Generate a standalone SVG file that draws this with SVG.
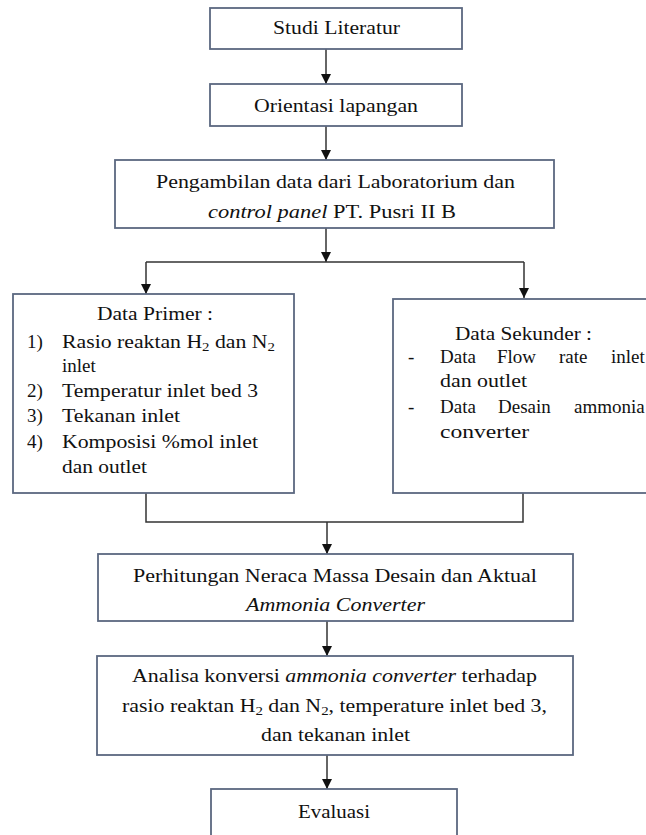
<svg xmlns="http://www.w3.org/2000/svg" width="646" height="835" viewBox="0 0 646 835">
<style>
.box{fill:#fff;stroke:#5b6880;stroke-width:1.8}
.con{fill:none;stroke:#333;stroke-width:1.5}
text{font-family:"Liberation Serif","Times New Roman",serif;font-size:19px;fill:#111}
.it{font-style:italic}
.sub{font-size:13px}
</style>
<defs>
<marker id="arr" markerUnits="userSpaceOnUse" markerWidth="12" markerHeight="12" viewBox="0 0 12 12" refX="11" refY="6" orient="auto">
<path d="M1,1 L11,6 L1,11 Z" fill="#111"/>
</marker>
</defs>
<rect width="646" height="835" fill="#fff"/>
<g id="connectors">
<path class="con" d="M326,49 V84" marker-end="url(#arr)"/>
<path class="con" d="M326,126 V160" marker-end="url(#arr)"/>
<path class="con" d="M326,228 V262" marker-end="url(#arr)"/>
<path class="con" d="M146,262 H524"/>
<path class="con" d="M146,262 V294" marker-end="url(#arr)"/>
<path class="con" d="M524,262 V298" marker-end="url(#arr)"/>
<path class="con" d="M146,493 V522 H523 V493"/>
<path class="con" d="M327,522 V554" marker-end="url(#arr)"/>
<path class="con" d="M327,621 V656" marker-end="url(#arr)"/>
<path class="con" d="M327,755 V789" marker-end="url(#arr)"/>
</g>
<g id="studi">
<rect class="box" x="210" y="8" width="252" height="41"/>
<text x="273" y="34" textLength="127" lengthAdjust="spacingAndGlyphs">Studi Literatur</text>
</g>
<g id="orientasi">
<rect class="box" x="210" y="84" width="252" height="42"/>
<text x="254" y="112" textLength="164" lengthAdjust="spacingAndGlyphs">Orientasi lapangan</text>
</g>
<g id="pengambilan">
<rect class="box" x="115" y="160" width="439" height="68"/>
<text x="156" y="188" textLength="359" lengthAdjust="spacingAndGlyphs">Pengambilan data dari Laboratorium dan</text>
<text x="208" y="218" textLength="248" lengthAdjust="spacingAndGlyphs"><tspan class="it">control panel</tspan> PT. Pusri II B</text>
</g>
<g id="primer">
<rect class="box" x="13" y="294" width="281" height="199"/>
<text x="97" y="320" textLength="116" lengthAdjust="spacingAndGlyphs">Data Primer :</text>
<text x="27" y="348">1)</text>
<text x="62" y="348" textLength="213" lengthAdjust="spacingAndGlyphs">Rasio reaktan H<tspan class="sub" dy="3">2</tspan><tspan dy="-3"> dan N</tspan><tspan class="sub" dy="3">2</tspan></text>
<text x="62" y="372">inlet</text>
<text x="27" y="397">2)</text>
<text x="62" y="397" textLength="196" lengthAdjust="spacingAndGlyphs">Temperatur inlet bed 3</text>
<text x="27" y="422">3)</text>
<text x="62" y="422" textLength="118" lengthAdjust="spacingAndGlyphs">Tekanan inlet</text>
<text x="27" y="448">4)</text>
<text x="62" y="448" textLength="196" lengthAdjust="spacingAndGlyphs">Komposisi %mol inlet</text>
<text x="62" y="473" textLength="85" lengthAdjust="spacingAndGlyphs">dan outlet</text>
</g>
<g id="sekunder">
<rect class="box" x="393" y="299" width="270" height="194"/>
<text x="455" y="340" textLength="137" lengthAdjust="spacingAndGlyphs">Data Sekunder :</text>
<text x="408" y="363">-</text>
<text x="440" y="363">Data</text>
<text x="497" y="363">Flow</text>
<text x="559" y="363">rate</text>
<text x="611" y="363">inlet</text>
<text x="440" y="387" textLength="87" lengthAdjust="spacingAndGlyphs">dan outlet</text>
<text x="408" y="413">-</text>
<text x="440" y="413">Data</text>
<text x="498" y="413">Desain</text>
<text x="574" y="413">ammonia</text>
<text x="440" y="438" textLength="89" lengthAdjust="spacingAndGlyphs">converter</text>
</g>
<g id="perhitungan">
<rect class="box" x="98" y="554" width="475" height="67"/>
<text x="133" y="582" textLength="404" lengthAdjust="spacingAndGlyphs">Perhitungan Neraca Massa Desain dan Aktual</text>
<text x="246" y="611" class="it" textLength="179" lengthAdjust="spacingAndGlyphs">Ammonia Converter</text>
</g>
<g id="analisa">
<rect class="box" x="97" y="656" width="476" height="99"/>
<text x="132" y="682" textLength="405" lengthAdjust="spacingAndGlyphs">Analisa konversi <tspan class="it">ammonia converter</tspan> terhadap</text>
<text x="122" y="712" textLength="425" lengthAdjust="spacingAndGlyphs">rasio reaktan H<tspan class="sub" dy="3">2</tspan><tspan dy="-3"> dan N</tspan><tspan class="sub" dy="3">2</tspan><tspan dy="-3">, temperature inlet bed 3,</tspan></text>
<text x="261" y="741" textLength="149" lengthAdjust="spacingAndGlyphs">dan tekanan inlet</text>
</g>
<g id="evaluasi">
<rect class="box" x="211" y="789" width="246" height="60"/>
<text x="298" y="818" textLength="72" lengthAdjust="spacingAndGlyphs">Evaluasi</text>
</g>
</svg>
